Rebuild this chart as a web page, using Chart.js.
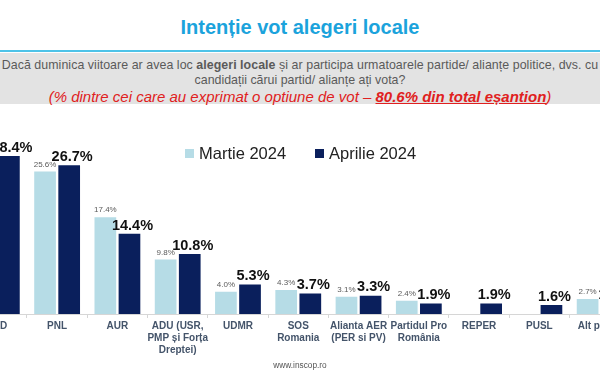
<!DOCTYPE html>
<html lang="ro">
<head>
<meta charset="utf-8">
<title>Intenție vot alegeri locale</title>
<script src="https://cdn.jsdelivr.net/npm/chart.js@4.4.1/dist/chart.umd.min.js"></script>
<style>
  html, body { margin: 0; padding: 0; }
  body { width: 600px; height: 376px; overflow: hidden; position: relative; background: #fff;
         font-family: "Liberation Sans", Arial, sans-serif; }
  #title { position: absolute; top: 16px; left: 0; width: 600px; text-align: center;
           font-size: 20px; font-weight: bold; color: #1ba3dc; }
  #rule { position: absolute; top: 50px; left: 0; width: 600px; height: 2px; background: #4dc3e8; }
  #box { position: absolute; top: 53px; left: 0; width: 600px; height: 51px; background: #e3e3e3; }
  .q { position: absolute; left: 0; width: 600px; text-align: center; white-space: nowrap;
       font-size: 12.4px; color: #5a5a5a; }
  #q1 { top: 58px; letter-spacing: 0.05px; }
  #q2 { top: 73px; }
  #q3 { top: 88px; font-size: 15px; font-style: italic; color: #e02020; }
  #q3 b { text-decoration: underline; }
  #wrap { position: absolute; left: -50px; top: 110px; width: 700px; height: 266px; }
  .leg { position: absolute; top: 144px; font-size: 16.5px; color: #222; white-space: nowrap; }
  .leg span { display: inline-block; width: 9px; height: 9px; margin-right: 5px; vertical-align: 1px; }
  #footer { position: absolute; top: 360px; left: 0; width: 600px; text-align: center;
            font-size: 8.3px; color: #555; }
</style>
</head>
<body>
<div id="title">Intenție vot alegeri locale</div>
<div id="rule"></div>
<div id="box"></div>
<div class="q" id="q1">Dacă duminica viitoare ar avea loc <b>alegeri locale</b> și ar participa urmatoarele partide/ alianțe politice, dvs. cu</div>
<div class="q" id="q2">candidații cărui partid/ alianțe ați vota?</div>
<div class="q" id="q3">(% dintre cei care au exprimat o optiune de vot – <b>80.6% din total eșantion</b>)</div>
<div id="wrap"><canvas id="chart" width="700" height="266"></canvas></div>
<div class="leg" style="left:185px"><span style="background:#b6dce6"></span>Martie 2024</div>
<div class="leg" style="left:315px"><span style="background:#0a1f5c"></span>Aprilie 2024</div>
<div id="footer">www.inscop.ro</div>
<script>
'use strict';

// Partide / alianțe
const categories = [
    'PSD', 'PNL', 'AUR', ['ADU (USR,', 'PMP și Forța', 'Dreptei)'], 'UDMR',
    ['SOS', 'Romania'], ['Alianta AER', '(PER si PV)'], ['Partidul Pro', 'România'],
    'REPER', 'PUSL', 'Alt partid'
];
const seriesNames = ['Martie 2024', 'Aprilie 2024'];
// Valori (%)
const martie = [29.5, 25.6, 17.4, 9.8, 4.0, 4.3, 3.1, 2.4, null, null, 2.7];
const aprilie = [28.4, 26.7, 14.4, 10.8, 5.3, 3.7, 3.3, 1.9, 1.9, 1.6, 1.9];

const colMartie = '#b6dce6';
const colAprilie = '#0a1f5c';

// Etichete cu valori deasupra barelor
const valueLabels = {
    id: 'valueLabels',
    afterDatasetsDraw(chart) {
        const ctx = chart.ctx;
        ctx.save();
        ctx.textAlign = 'center';
        ctx.textBaseline = 'bottom';
        chart.data.datasets.forEach((ds, i) => {
            const meta = chart.getDatasetMeta(i);
            meta.data.forEach((bar, j) => {
                const v = ds.data[j];
                if (v === null) return;
                if (i === 0) {
                    ctx.font = '8px "Liberation Sans", Arial, sans-serif';
                    ctx.fillStyle = '#5a5a5a';
                    ctx.fillText(v.toFixed(1) + '%', bar.x, bar.y - 3);
                } else {
                    ctx.font = 'bold 14.5px "Liberation Sans", Arial, sans-serif';
                    ctx.fillStyle = '#111';
                    ctx.fillText(v.toFixed(1) + '%', bar.x + 3, bar.y - 1);
                }
            });
        });
        ctx.restore();
    }
};

const ctx = document.getElementById('chart').getContext('2d');
new Chart(ctx, {
    type: 'bar',
    data: {
        labels: categories,
        datasets: [
            { label: seriesNames[0], data: martie, backgroundColor: colMartie,
              barPercentage: 0.9, categoryPercentage: 0.8 },
            { label: seriesNames[1], data: aprilie, backgroundColor: colAprilie,
              barPercentage: 0.9, categoryPercentage: 0.8 }
        ]
    },
    options: {
        responsive: false,
        animation: false,
        layout: { padding: { left: 16.7, right: 20.2, top: 37, bottom: 12 } },
        plugins: { legend: { display: false }, tooltip: { enabled: false } },
        scales: {
            x: {
                grid: { display: true, drawOnChartArea: false, drawTicks: true, tickLength: 4,
                        color: '#d6d6d6', offset: true },
                border: { display: true, color: '#d6d6d6' },
                ticks: {
                    autoSkip: false, maxRotation: 0, padding: 2, color: '#44546a',
                    font: { family: '"Liberation Sans", Arial, sans-serif', size: 10, weight: 'bold' }
                },
                afterFit(scale) { scale.height = 50; }
            },
            y: { display: false, min: 0, max: 30 }
        }
    },
    plugins: [valueLabels]
});
</script>
</body>
</html>
